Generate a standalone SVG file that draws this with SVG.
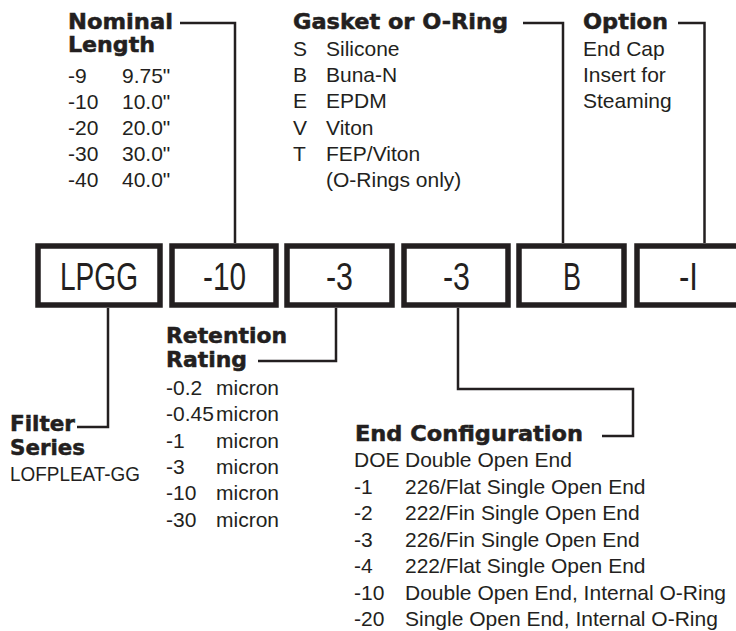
<svg xmlns="http://www.w3.org/2000/svg" width="736" height="631" viewBox="0 0 736 631">
<style>
.h{font-family:"DejaVu Sans","Liberation Sans",sans-serif;font-weight:bold;font-size:21px;fill:#231f20;stroke:#231f20;stroke-width:0.5}
.t{font-family:"Liberation Sans",Arial,sans-serif;font-size:21px;fill:#231f20}
.b{font-family:"Liberation Sans",Arial,sans-serif;font-size:38px;fill:#231f20}
.box{fill:#fff;stroke:#231f20;stroke-width:5.5}
.c{fill:none;stroke:#231f20;stroke-width:2.5}
</style>
<rect width="736" height="631" fill="#fff"/>
<g id="connectors">
<path class="c" d="M180,23 H235 V243"/>
<path class="c" d="M523,23 H563 V243"/>
<path class="c" d="M678,23 H704.5 V243"/>
<path class="c" d="M108,308 V427 H77"/>
<path class="c" d="M336,308 V361 H258"/>
<path class="c" d="M458,308 V389 H633 V436 H602"/>
</g>
<g id="box-lpgg"><rect class="box" x="38" y="246" width="122" height="59"/><text class="b" x="60" y="290" textLength="78" lengthAdjust="spacingAndGlyphs">LPGG</text></g>
<g id="box-length"><rect class="box" x="172" y="246" width="104" height="59"/><text class="b" x="203" y="290" textLength="43" lengthAdjust="spacingAndGlyphs">-10</text></g>
<g id="box-retention"><rect class="box" x="287" y="246" width="105" height="59"/><text class="b" x="326" y="290" textLength="27" lengthAdjust="spacingAndGlyphs">-3</text></g>
<g id="box-end"><rect class="box" x="404" y="246" width="104" height="59"/><text class="b" x="443" y="290" textLength="27" lengthAdjust="spacingAndGlyphs">-3</text></g>
<g id="box-gasket"><rect class="box" x="519" y="246" width="105" height="59"/><text class="b" x="563" y="290" textLength="18" lengthAdjust="spacingAndGlyphs">B</text></g>
<g id="box-option"><rect class="box" x="637" y="246" width="104" height="59"/><text class="b" x="679" y="290" textLength="19" lengthAdjust="spacingAndGlyphs">-I</text></g>
<g id="nominal-length">
<text class="h" x="68" y="29" textLength="105" lengthAdjust="spacingAndGlyphs">Nominal</text>
<text class="h" x="68" y="52" textLength="87" lengthAdjust="spacingAndGlyphs">Length</text>
<text class="t" x="68" y="82.5">-9</text><text class="t" x="122" y="82.5">9.75"</text>
<text class="t" x="68" y="108.7">-10</text><text class="t" x="122" y="108.7">10.0"</text>
<text class="t" x="68" y="134.9">-20</text><text class="t" x="122" y="134.9">20.0"</text>
<text class="t" x="68" y="161.1">-30</text><text class="t" x="122" y="161.1">30.0"</text>
<text class="t" x="68" y="187.3">-40</text><text class="t" x="122" y="187.3">40.0"</text>
</g>
<g id="gasket">
<text class="h" x="293" y="29" textLength="215" lengthAdjust="spacingAndGlyphs">Gasket or O-Ring</text>
<text class="t" x="293" y="56">S</text><text class="t" x="326" y="56">Silicone</text>
<text class="t" x="293" y="82.2">B</text><text class="t" x="326" y="82.2">Buna-N</text>
<text class="t" x="293" y="108.4">E</text><text class="t" x="326" y="108.4">EPDM</text>
<text class="t" x="293" y="134.6">V</text><text class="t" x="326" y="134.6">Viton</text>
<text class="t" x="293" y="160.8">T</text><text class="t" x="326" y="160.8">FEP/Viton</text>
<text class="t" x="326" y="187">(O-Rings only)</text>
</g>
<g id="option">
<text class="h" x="583" y="29" textLength="85" lengthAdjust="spacingAndGlyphs">Option</text>
<text class="t" x="583" y="56">End Cap</text>
<text class="t" x="583" y="82.2">Insert for</text>
<text class="t" x="583" y="108.4">Steaming</text>
</g>
<g id="filter-series">
<text class="h" x="10" y="431" textLength="65" lengthAdjust="spacingAndGlyphs">Filter</text>
<text class="h" x="10" y="455" textLength="75" lengthAdjust="spacingAndGlyphs">Series</text>
<text class="t" x="10" y="481" textLength="130" lengthAdjust="spacingAndGlyphs">LOFPLEAT-GG</text>
</g>
<g id="retention">
<text class="h" x="166" y="343" textLength="121" lengthAdjust="spacingAndGlyphs">Retention</text>
<text class="h" x="166" y="367" textLength="81" lengthAdjust="spacingAndGlyphs">Rating</text>
<text class="t" x="166" y="395">-0.2</text><text class="t" x="216" y="395">micron</text>
<text class="t" x="166" y="421.3">-0.45</text><text class="t" x="216" y="421.3">micron</text>
<text class="t" x="166" y="447.6">-1</text><text class="t" x="216" y="447.6">micron</text>
<text class="t" x="166" y="473.9">-3</text><text class="t" x="216" y="473.9">micron</text>
<text class="t" x="166" y="500.2">-10</text><text class="t" x="216" y="500.2">micron</text>
<text class="t" x="166" y="526.5">-30</text><text class="t" x="216" y="526.5">micron</text>
</g>
<g id="end-configuration">
<text class="h" x="355" y="441" textLength="228" lengthAdjust="spacingAndGlyphs">End Configuration</text>
<text class="t" x="354" y="467">DOE</text><text class="t" x="405" y="467">Double Open End</text>
<text class="t" x="354" y="493.5">-1</text><text class="t" x="405" y="493.5">226/Flat Single Open End</text>
<text class="t" x="354" y="520">-2</text><text class="t" x="405" y="520">222/Fin Single Open End</text>
<text class="t" x="354" y="546.5">-3</text><text class="t" x="405" y="546.5">226/Fin Single Open End</text>
<text class="t" x="354" y="573">-4</text><text class="t" x="405" y="573">222/Flat Single Open End</text>
<text class="t" x="354" y="599.5">-10</text><text class="t" x="405" y="599.5">Double Open End, Internal O-Ring</text>
<text class="t" x="354" y="626">-20</text><text class="t" x="405" y="626">Single Open End, Internal O-Ring</text>
</g>
</svg>
